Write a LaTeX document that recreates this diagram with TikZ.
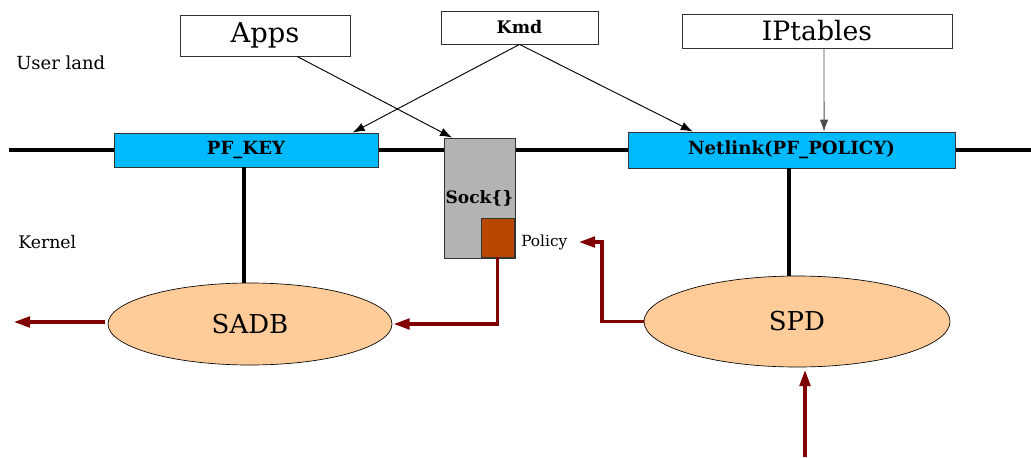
\documentclass[tikz,border=0pt]{standalone}
\usepackage{fontspec}
\setmainfont{DejaVu Serif}
\usetikzlibrary{shapes.geometric,arrows.meta}
\definecolor{keyblue}{RGB}{0,186,255}
\definecolor{sockgray}{RGB}{179,179,179}
\definecolor{polbrown}{RGB}{184,71,0}
\definecolor{ovalfill}{RGB}{255,204,153}
\definecolor{darkred}{RGB}{128,0,0}
\tikzset{
  userbox/.style={draw=black!80, line width=0.6pt, fill=white, inner sep=0pt},
  apibox/.style={draw=black!80, line width=0.6pt, fill=keyblue, inner sep=0pt, font=\bfseries\fontsize{13.6}{16}\selectfont},
  dbellipse/.style={ellipse, draw=black, line width=0.5pt, fill=ovalfill, inner sep=0pt, font=\fontsize{19.5}{22}\selectfont},
  thinarrow/.style={line width=0.7pt, -{Latex[length=9pt,width=6.5pt]}},
  redarrow/.style={draw=darkred, line width=2.3pt, line join=miter, -{Triangle[length=12pt,width=8pt]}},
  busline/.style={line width=3pt, black},
  plainlabel/.style={anchor=west, inner sep=0pt}
}
\begin{document}
\begin{tikzpicture}[x=0.75pt, y=-0.75pt]
\useasboundingbox (0,0) rectangle (1031,457);
% bus line
\coordinate (busL) at (9,150);
\coordinate (busR) at (1031,150);
\draw[busline] (busL) -- (busR);
% labels
\node[plainlabel, font=\fontsize{13.5}{16}\selectfont] (userland) at (16,63) {User land};
\node[plainlabel, font=\fontsize{13}{16}\selectfont] (kernel) at (18,242) {Kernel};
% user boxes
\node[userbox, minimum width=127.5pt, minimum height=30.75pt, font=\fontsize{20.5}{24}\selectfont] (apps) at (265,35.5) {Apps};
\node[userbox, minimum width=117.75pt, minimum height=24.75pt, font=\bfseries\fontsize{13}{16}\selectfont] (kmd) at (519.5,27.5) {Kmd};
\node[userbox, minimum width=202.5pt, minimum height=25.5pt, font=\fontsize{20}{23}\selectfont] (ipt) at (817,31) {IPtables};
% kernel interfaces
\node[apibox, minimum width=198pt, minimum height=25.5pt] (pfkey) at (246,150) {PF\_KEY};
\node[apibox, minimum width=245.25pt, minimum height=27pt] (netlink) at (791.5,150) {Netlink(PF\_POLICY)};
\node[draw=black!80, line width=0.6pt, fill=sockgray, inner sep=0pt, minimum width=53.25pt, minimum height=90pt, font=\bfseries\fontsize{12.8}{15}\selectfont] (sock) at (479.5,198) {Sock\{\}};
\node[draw=black!80, line width=0.6pt, fill=polbrown, inner sep=0pt, minimum width=24.75pt, minimum height=29.25pt] (pol) at (497.5,237.5) {};
\node[plainlabel, font=\fontsize{11.5}{14}\selectfont] (policylbl) at (521,242) {Policy};
% databases
\node[dbellipse, minimum width=213pt, minimum height=61.5pt] (sadb) at (250,324) {SADB};
\node[dbellipse, minimum width=229.5pt, minimum height=68.25pt] (spd) at (797,321.5) {SPD};
% vertical links
\coordinate (vx1) at (244,0);
\coordinate (vx2) at (789,0);
\draw[busline] (pfkey.south -| vx1) -- (sadb.north -| vx1);
\draw[busline] (netlink.south -| vx2) -- (spd.north -| vx2);
% user arrows
\draw[thinarrow] ([xshift=24pt]apps.south) -- ([xshift=-20.6pt]sock.north);
\draw[thinarrow] (kmd.south) -- ([xshift=80pt]pfkey.north);
\draw[thinarrow] (kmd.south) -- ([xshift=-74pt]netlink.north);
\draw[thinarrow, draw=black!70] ([xshift=5.25pt]ipt.south) -- ([xshift=24.4pt]netlink.north);
% red flows
\coordinate (tipL) at (14,0);
\draw[redarrow] ([xshift=-2pt,yshift=1.5pt]sadb.west) -- ([yshift=1.5pt]sadb.west -| tipL);
\draw[redarrow] (pol.south) |- ([xshift=1pt]sadb.east);
\coordinate (pcorner) at (602,242);
\coordinate (ptip) at (579,242);
\draw[redarrow] (spd.west) -| (pcorner) -- (ptip);
\coordinate (bot) at (805,457);
\draw[redarrow] (bot) -- ([yshift=-2pt]bot |- spd.south);
\end{tikzpicture}
\end{document}
